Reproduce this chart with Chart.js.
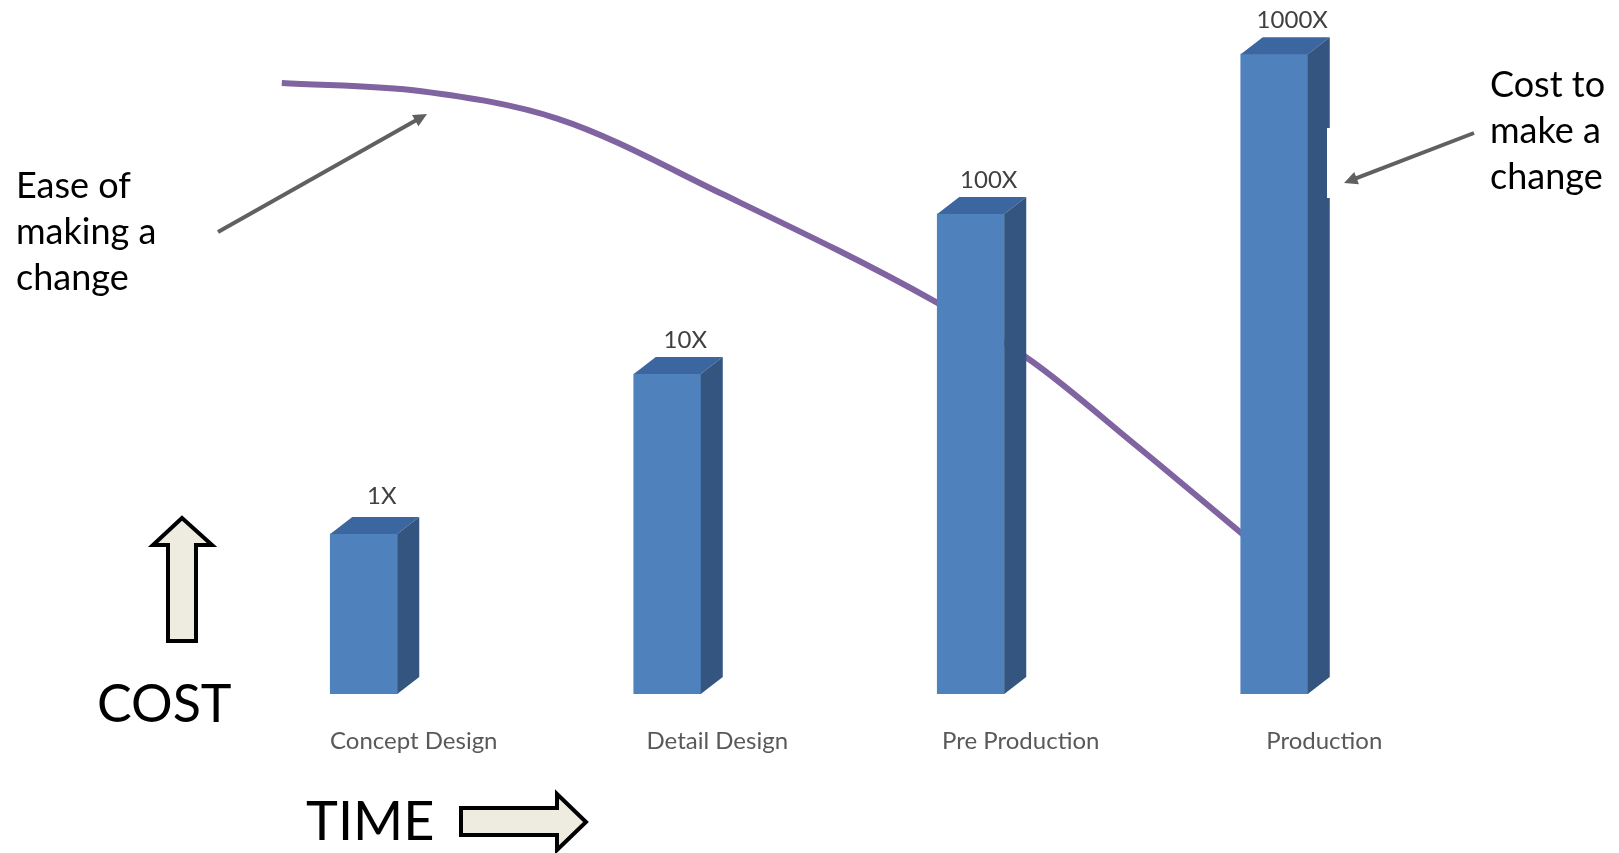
<!DOCTYPE html>
<html>
<head>
<meta charset="utf-8">
<script src="https://cdn.jsdelivr.net/npm/chart.js@4.4.1/dist/chart.umd.min.js"></script>
<style>
  html, body { margin: 0; padding: 0; background: #fff; }
  #wrap { width: 1619px; height: 853px; }
</style>
</head>
<body>
<div id="wrap"><canvas id="myChart" width="1619" height="853"></canvas></div>
<script>
const stages = ['Concept Design', 'Detail Design', 'Pre Production', 'Production'];
const costFactor = [1, 10, 100, 1000];
const costLabels = ['1X', '10X', '100X', '1000X'];

// ease of making a change (x in stage units 0-4, y on a 0-100 scale)
const easeTime = [0.23, 0.69, 1.14, 1.68, 2.38, 2.70, 3.04, 3.41];
const easeLevel = [88.8, 87.6, 83.6, 72.7, 57.1, 48.4, 36.3, 22.7];

const FONT = 'Lato, "Liberation Sans", sans-serif';
const depthX = 22, depthY = 17;

// side + top faces and value labels for the pseudo 3D columns
const bars3d = {
  id: 'bars3d',
  afterDatasetsDraw(chart) {
    const ctx = chart.ctx;
    const meta = chart.getDatasetMeta(0);
    meta.data.forEach((bar, i) => {
      const p = bar.getProps(['x', 'y', 'base', 'width'], true);
      const l = p.x - p.width / 2, r = p.x + p.width / 2;
      ctx.save();
      ctx.fillStyle = '#3C66A0';
      ctx.beginPath();
      ctx.moveTo(l, p.y);
      ctx.lineTo(l + depthX, p.y - depthY);
      ctx.lineTo(r + depthX, p.y - depthY);
      ctx.lineTo(r, p.y);
      ctx.closePath();
      ctx.fill();
      ctx.fillStyle = '#33557F';
      ctx.beginPath();
      ctx.moveTo(r, p.y);
      ctx.lineTo(r + depthX, p.y - depthY);
      ctx.lineTo(r + depthX, p.base - depthY);
      ctx.lineTo(r, p.base);
      ctx.closePath();
      ctx.fill();
      ctx.fillStyle = '#404040';
      ctx.font = '24px ' + FONT;
      ctx.textAlign = 'center';
      ctx.textBaseline = 'alphabetic';
      ctx.fillText(costLabels[i], p.x + 18, p.y - depthY - (i === 0 ? 13 : 9));
      ctx.restore();
    });
  }
};

function arrow(ctx, x1, y1, x2, y2) {
  const a = Math.atan2(y2 - y1, x2 - x1), h = 15;
  ctx.beginPath();
  ctx.moveTo(x1, y1);
  ctx.lineTo(x2 - Math.cos(a) * h * 0.8, y2 - Math.sin(a) * h * 0.8);
  ctx.stroke();
  ctx.beginPath();
  ctx.moveTo(x2, y2);
  ctx.lineTo(x2 - h * Math.cos(a - 0.45), y2 - h * Math.sin(a - 0.45));
  ctx.lineTo(x2 - h * Math.cos(a + 0.45), y2 - h * Math.sin(a + 0.45));
  ctx.closePath();
  ctx.fill();
}

function blockArrow(ctx, pts) {
  ctx.beginPath();
  pts.forEach((q, i) => i ? ctx.lineTo(q[0], q[1]) : ctx.moveTo(q[0], q[1]));
  ctx.closePath();
  ctx.fillStyle = '#EEECE1';
  ctx.fill();
  ctx.lineWidth = 4;
  ctx.strokeStyle = '#000';
  ctx.lineJoin = 'miter';
  ctx.stroke();
}

const notes = {
  id: 'notes',
  afterDraw(chart) {
    const ctx = chart.ctx;
    ctx.save();
    // text box of the right note covers a sliver of the last column
    ctx.fillStyle = '#fff';
    ctx.fillRect(1327, 128, 30, 70);

    ctx.fillStyle = '#000';
    ctx.font = '36px ' + FONT;
    ctx.textAlign = 'left';
    ctx.textBaseline = 'alphabetic';
    ['Ease of', 'making a', 'change'].forEach((t, i) => ctx.fillText(t, 16, 198 + i * 46));
    ['Cost to', 'make a', 'change'].forEach((t, i) => ctx.fillText(t, 1490, 97 + i * 46));

    ctx.strokeStyle = '#606060';
    ctx.fillStyle = '#606060';
    ctx.lineWidth = 4;
    arrow(ctx, 218, 232, 427, 114);
    arrow(ctx, 1474, 133, 1344, 183);

    ctx.fillStyle = '#000';
    ctx.font = '52px ' + FONT;
    ctx.fillText('COST', 97, 722);
    ctx.font = '54px ' + FONT;
    ctx.fillText('TIME', 306, 840);

    blockArrow(ctx, [[182, 518], [212, 545], [196, 545], [196, 641], [168, 641], [168, 545], [153, 545]]);
    blockArrow(ctx, [[461, 808], [557, 808], [557, 794], [586, 822], [557, 850], [557, 835], [461, 835]]);
    ctx.restore();
  }
};

const ctx = document.getElementById('myChart').getContext('2d');

const data = {
  labels: stages,
  datasets: [{
    type: 'bar',
    label: 'Cost to make a change',
    data: costFactor,
    backgroundColor: '#4F81BD',
    barThickness: 67,
    grouped: false,
    xAxisID: 'x',
    yAxisID: 'y',
    order: 0
  }, {
    type: 'line',
    label: 'Ease of making a change',
    data: easeTime.map((t, i) => ({ x: t, y: easeLevel[i] })),
    borderColor: '#8064A2',
    borderWidth: 6,
    borderCapStyle: 'butt',
    pointRadius: 0,
    cubicInterpolationMode: 'monotone',
    xAxisID: 'xTime',
    yAxisID: 'yEase',
    order: 1
  }]
};

const config = {
  type: 'bar',
  data: data,
  plugins: [bars3d, notes],
  options: {
    responsive: false,
    animation: false,
    layout: { padding: { left: 212, right: 193, top: 6, bottom: 0 } },
    plugins: { legend: { display: false }, tooltip: { enabled: false } },
    scales: {
      x: {
        afterFit: s => { s.height = 159; },
        grid: { display: false, drawTicks: false },
        border: { display: false },
        ticks: {
          color: '#595959',
          font: { family: FONT, size: 24 },
          padding: 33,
          labelOffset: 50,
          maxRotation: 0,
          autoSkip: false
        }
      },
      y: {
        type: 'logarithmic',
        display: false,
        min: 0.1,
        max: 2000
      },
      xTime: {
        type: 'linear',
        display: false,
        offset: false,
        min: 0,
        max: 4
      },
      yEase: {
        type: 'linear',
        display: false,
        min: 0,
        max: 100
      }
    }
  }
};

new Chart(ctx, config);
</script>
</body>
</html>
